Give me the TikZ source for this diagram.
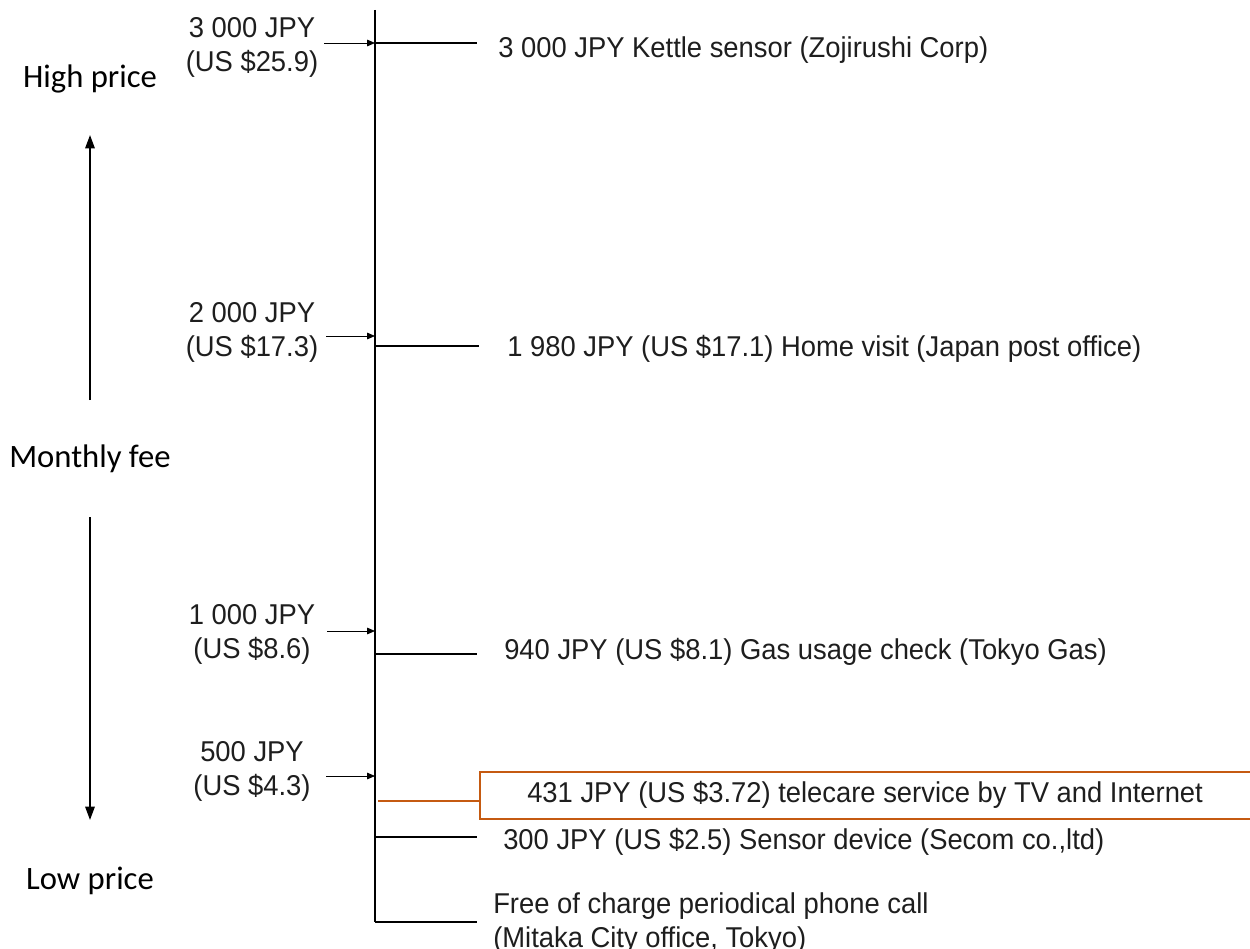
\documentclass[tikz,border=0pt]{standalone}
\usepackage{fontspec}
\setmainfont{Liberation Sans}[FakeStretch=0.955]
\newfontfamily\calfont{Carlito}
\usetikzlibrary{arrows.meta}
\definecolor{tcorange}{RGB}{197,90,17}
\definecolor{txtgray}{RGB}{30,30,30}
\tikzset{
  axisline/.style={line width=1.8pt, black},
  tickline/.style={line width=1.6pt, black},
  ptr/.style={line width=0.6pt, black, -{Triangle[length=6pt,width=5pt]}},
  bigarrow/.style={line width=1.4pt, black, -{Triangle[length=10pt,width=7pt]}},
  lefttxt/.style={font=\fontsize{21.5}{25.5}\selectfont, text=txtgray, align=center, inner sep=0pt},
  righttxt/.style={font=\fontsize{21.5}{25.5}\selectfont, text=txtgray, align=left, anchor=west, inner sep=0pt},
  sidetxt/.style={font=\calfont\fontsize{24.5}{28}\selectfont, text=black, inner sep=0pt},
  orangebox/.style={draw=tcorange, line width=1.6pt},
}
\begin{document}
\begin{tikzpicture}[x=0.75pt,y=-0.75pt]
\clip (0,0) rectangle (1250,949);
\fill[white] (0,0) rectangle (1250,949);
% axis
\coordinate (axtop) at (375,10);
\coordinate (axbot) at (375,922);
\draw[axisline] (axtop) -- (axbot);
% axis points
\coordinate (a3000) at (375,43);
\coordinate (a2000) at (375,336);
\coordinate (a1000) at (375,631);
\coordinate (a500) at (375,776);
\coordinate (t1980) at (375,346);
\coordinate (t940) at (375,654);
\coordinate (t431) at (378,801);
\coordinate (t300) at (375,837);
\coordinate (t0) at (375,922);
\coordinate (e3000) at (477,43);
\coordinate (e1980) at (479,346);
\coordinate (e940) at (477,654);
\coordinate (e300) at (477,837);
\coordinate (e0) at (477,922);
% left labels
\node[lefttxt] (l3000) at (252,47) {3 000 JPY\\(US \$25.9)};
\node[lefttxt] (l2000) at (252,332) {2 000 JPY\\(US \$17.3)};
\node[lefttxt] (l1000) at (252,634) {1 000 JPY\\(US \$8.6)};
\node[lefttxt] (l500) at (252,771) {500 JPY\\(US \$4.3)};
\coordinate (s3000) at (324,43);
\coordinate (s2000) at (326,336);
\coordinate (s1000) at (327,631);
\coordinate (s500) at (326,776);
\draw[ptr] (s3000) -- (a3000);
\draw[ptr] (s2000) -- (a2000);
\draw[ptr] (s1000) -- (a1000);
\draw[ptr] (s500) -- (a500);
% ticks
\draw[tickline] (a3000) -- (e3000);
\draw[tickline] (t1980) -- (e1980);
\draw[tickline] (t940) -- (e940);
\draw[tickline] (t300) -- (e300);
\draw[tickline] (t0) -- (e0);
% orange
\node[orangebox, minimum width=790*0.75pt, minimum height=47*0.75pt, anchor=west, inner sep=0pt] (obox) at (479,795.5) {};
\draw[line width=1.6pt, tcorange] (t431) -- (obox.west |- t431);
% right labels
\node[righttxt] (r3000) at (498,50) {3 000 JPY Kettle sensor (Zojirushi Corp)};
\node[righttxt] (r1980) at (507,349) {1 980 JPY (US \$17.1) Home visit (Japan post office)};
\node[righttxt] (r940) at (504,652) {940 JPY (US \$8.1) Gas usage check (Tokyo Gas)};
\node[righttxt] (r431) at (527,795) {431 JPY (US \$3.72) telecare service by TV and Internet};
\node[righttxt] (r300) at (503,842) {300 JPY (US \$2.5) Sensor device (Secom co.,ltd)};
\node[righttxt] (r0) at (493,923) {Free of charge periodical phone call\\(Mitaka City office, Tokyo)};
% side
\node[sidetxt] (high) at (90,79) {High price};
\node[sidetxt] (mfee) at (90,459) {Monthly fee};
\node[sidetxt] (low) at (90,881) {Low price};
\coordinate (upS) at (90,400);
\coordinate (upE) at (90,135);
\coordinate (dnS) at (90,517);
\coordinate (dnE) at (90,820);
\draw[bigarrow] (upS) -- (upE);
\draw[bigarrow] (dnS) -- (dnE);
\end{tikzpicture}
\end{document}
